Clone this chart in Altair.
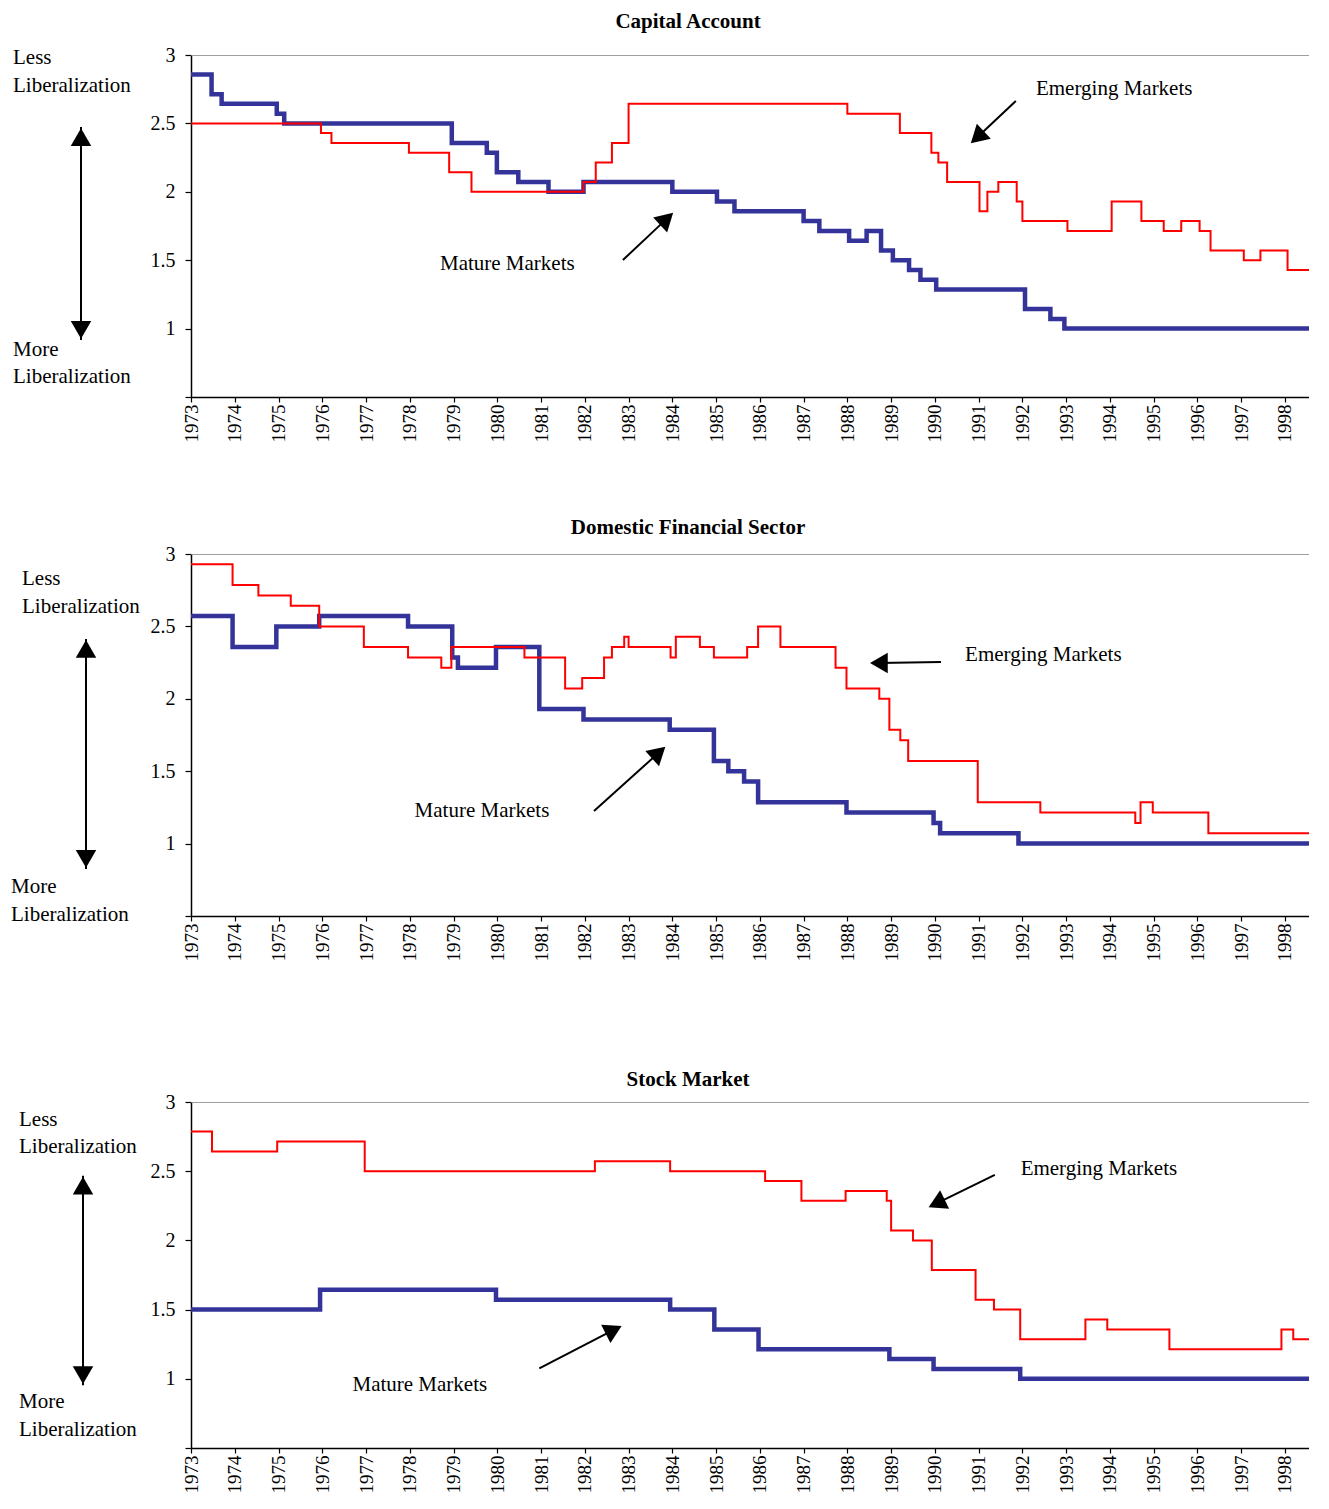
import altair as alt
import pandas as pd

FONT = "Liberation Serif"
RED = "#FF0000"
BLUE = "#333399"

YEARS = list(range(1973, 1999))
Y_TICKS = [0.5, 1, 1.5, 2, 2.5, 3]
TITLES = ["Capital Account", "Domestic Financial Sector", "Stock Market"]
SERIES_NAMES = ["Emerging Markets", "Mature Markets"]
SIDE_LABELS = ["Less", "Liberalization", "More", "Liberalization"]

# ---- Capital Account (dates of change, level) ----
CA_EM_T = [1973.0, 1975.97, 1976.21, 1977.98, 1978.9, 1979.41, 1981.97, 1982.25, 1982.62, 1983.0,
           1988.0, 1989.2, 1989.92, 1990.08, 1990.28, 1991.02, 1991.2, 1991.45, 1991.87, 1992.0,
           1993.03, 1994.04, 1994.72, 1995.23, 1995.63, 1996.05, 1996.3, 1997.06, 1997.44, 1998.06, 1999.0]
CA_EM_V = [2.5, 2.429, 2.357, 2.286, 2.143, 2.0, 2.071, 2.214, 2.357, 2.643,
           2.571, 2.429, 2.286, 2.214, 2.071, 1.857, 2.0, 2.071, 1.929, 1.786,
           1.714, 1.929, 1.786, 1.714, 1.786, 1.714, 1.571, 1.5, 1.571, 1.429, 1.429]
CA_MM_T = [1973.0, 1973.47, 1973.7, 1974.96, 1975.13, 1978.96, 1979.76, 1979.99, 1980.48, 1981.17,
           1981.97, 1984.0, 1985.02, 1985.42, 1987.0, 1987.36, 1988.04, 1988.44, 1988.77, 1989.04,
           1989.41, 1989.67, 1990.03, 1992.06, 1992.64, 1992.96, 1999.0]
CA_MM_V = [2.857, 2.714, 2.643, 2.571, 2.5, 2.357, 2.286, 2.143, 2.071, 2.0,
           2.071, 2.0, 1.929, 1.857, 1.786, 1.714, 1.643, 1.714, 1.571, 1.5,
           1.429, 1.357, 1.286, 1.143, 1.071, 1.0, 1.0]

# ---- Domestic Financial Sector ----
DF_EM_T = [1973.0, 1973.95, 1974.54, 1975.28, 1975.93, 1976.95, 1977.96, 1978.72, 1978.95, 1980.62,
           1981.55, 1981.94, 1982.44, 1982.62, 1982.9, 1983.0, 1983.96, 1984.08, 1984.63, 1984.95,
           1985.71, 1985.96, 1986.47, 1987.73, 1987.98, 1988.73, 1988.96, 1989.21, 1989.39, 1990.98,
           1992.41, 1994.58, 1994.7, 1994.98, 1996.25, 1999.0]
DF_EM_V = [2.929, 2.786, 2.714, 2.643, 2.5, 2.357, 2.286, 2.214, 2.357, 2.286,
           2.071, 2.143, 2.286, 2.357, 2.429, 2.357, 2.286, 2.429, 2.357, 2.286,
           2.357, 2.5, 2.357, 2.214, 2.071, 2.0, 1.786, 1.714, 1.571, 1.286,
           1.214, 1.143, 1.286, 1.214, 1.071, 1.071]
DF_MM_T = [1973.0, 1973.95, 1974.95, 1975.93, 1977.96, 1978.97, 1979.1, 1979.97, 1980.96, 1981.97,
           1983.94, 1984.95, 1985.28, 1985.64, 1985.96, 1987.98, 1989.97, 1990.12, 1991.91, 1999.0]
DF_MM_V = [2.571, 2.357, 2.5, 2.571, 2.5, 2.286, 2.214, 2.357, 1.929, 1.857,
           1.786, 1.571, 1.5, 1.429, 1.286, 1.214, 1.143, 1.071, 1.0, 1.0]

# ---- Stock Market ----
SM_EM_T = [1973.0, 1973.48, 1974.97, 1976.97, 1982.23, 1983.95, 1986.12, 1986.95, 1987.96, 1988.9,
           1989.0, 1989.5, 1989.93, 1990.93, 1991.35, 1991.95, 1993.44, 1993.94, 1995.36, 1997.92,
           1998.19, 1999.0]
SM_EM_V = [2.786, 2.643, 2.714, 2.5, 2.571, 2.5, 2.429, 2.286, 2.357, 2.286,
           2.071, 2.0, 1.786, 1.571, 1.5, 1.286, 1.429, 1.357, 1.214, 1.357,
           1.286, 1.286]
SM_MM_T = [1973.0, 1975.95, 1979.97, 1983.95, 1984.96, 1985.97, 1988.96, 1989.97, 1991.95, 1999.0]
SM_MM_V = [1.5, 1.643, 1.571, 1.5, 1.357, 1.214, 1.143, 1.071, 1.0, 1.0]

# ---- annotation placement (data coordinates; side notes in pixels left of the axis) ----
ANNOT = [
    dict(em_text=(1992.31, 2.751), em_arrow=(1991.85, 2.664, 1990.97, 2.399, 227),
         mm_text=(1978.69, 1.472), mm_arrow=(1982.87, 1.501, 1983.87, 1.802, 47),
         side=[(-178, 2.978), (-178, 2.773), (-178, 0.844), (-178, 0.646)],
         dbl=(-110, 2.474, 0.917, 2.40, 0.99)),
    dict(em_text=(1990.69, 2.303), em_arrow=(1990.14, 2.254, 1988.72, 2.247, 270),
         mm_text=(1978.11, 1.225), mm_arrow=(1982.21, 1.225, 1983.69, 1.628, 48),
         side=[(-169, 2.827), (-169, 2.634), (-180, 0.700), (-180, 0.507)],
         dbl=(-105, 2.413, 0.825, 2.344, 0.894)),
    dict(em_text=(1991.96, 2.517), em_arrow=(1991.37, 2.474, 1990.04, 2.268, 244),
         mm_text=(1976.69, 0.954), mm_arrow=(1980.96, 1.076, 1982.66, 1.353, 63),
         side=[(-172, 2.870), (-172, 2.676), (-172, 0.831), (-172, 0.630)],
         dbl=(-108, 2.467, 0.954, 2.395, 1.026)),
]

WIDTH = 1118
HEIGHTS = [342, 362, 346]
TITLE_OFFSETS = [13, 6, 2]
TITLE_DX = -62
X_END = 1998.55  # right edge of the visible plot area

xs = alt.Scale(domain=[1973, X_END], nice=False, zero=False)
ys = alt.Scale(domain=[0.5, 3], nice=False, zero=False)
xax = alt.Axis(values=YEARS, format="d", labelAngle=270, labelFont=FONT, labelFontSize=19,
               labelColor="black", tickColor="black", domainColor="black", domainWidth=1.5,
               tickWidth=1.2, tickSize=5, labelPadding=2, grid=False, labelOverlap=False)
yax = alt.Axis(values=Y_TICKS, format="~g", labelExpr="datum.value < 0.75 ? '' : datum.label",
               labelFont=FONT, labelFontSize=20, labelColor="black", tickColor="black",
               domainColor="black", domainWidth=1.5, tickWidth=1.2, tickSize=6, labelPadding=10,
               grid=False)


def X(f):
    return alt.X(f, type="quantitative", scale=xs, axis=xax, title=None)


def Y(f):
    return alt.Y(f, type="quantitative", scale=ys, axis=yax, title=None)


def panel(i, em_t, em_v, mm_t, mm_v):
    a = ANNOT[i]
    mm = pd.DataFrame({"t": mm_t, "v": mm_v})
    em = pd.DataFrame({"t": em_t, "v": em_v})
    layers = []
    layers.append(alt.Chart(pd.DataFrame({"t": [1973], "t2": [1999], "v": [3]}))
                  .mark_rule(color="#7f7f7f", strokeWidth=1.5, clip=True)
                  .encode(x=X("t"), x2="t2", y=Y("v")))
    layers.append(alt.Chart(mm).mark_line(color=BLUE, strokeWidth=4.5, interpolate="step-after",
                                          clip=True)
                  .encode(x=X("t"), y=Y("v")))
    layers.append(alt.Chart(em).mark_line(color=RED, strokeWidth=2, interpolate="step-after",
                                          clip=True)
                  .encode(x=X("t"), y=Y("v")))
    txt = pd.DataFrame({"t": [a["em_text"][0], a["mm_text"][0]],
                        "v": [a["em_text"][1], a["mm_text"][1]],
                        "label": SERIES_NAMES})
    layers.append(alt.Chart(txt).mark_text(align="left", baseline="middle", font=FONT,
                                           fontSize=21, color="black")
                  .encode(x=X("t"), y=Y("v"), text="label:N"))
    arr = pd.DataFrame([a["em_arrow"], a["mm_arrow"]], columns=["t1", "v1", "t2", "v2", "a"])
    layers.append(alt.Chart(arr).mark_rule(color="black", strokeWidth=2)
                  .encode(x=X("t1"), y=Y("v1"), x2="t2", y2="v2"))
    layers.append(alt.Chart(arr).mark_point(shape="triangle-up", filled=True, size=420,
                                            color="black", opacity=1)
                  .encode(x=X("t2"), y=Y("v2"), angle=alt.Angle("a:Q", scale=None)))
    for (px, v), lab in zip(a["side"], SIDE_LABELS):
        layers.append(alt.Chart(pd.DataFrame({"v": [v], "label": [lab]}))
                      .mark_text(align="left", baseline="middle", font=FONT, fontSize=21,
                                 color="black")
                      .encode(x=alt.value(px), y=Y("v"), text="label:N"))
    dx, top_tip, bot_tip, top_c, bot_c = a["dbl"]
    layers.append(alt.Chart(pd.DataFrame({"v1": [top_tip], "v2": [bot_tip]}))
                  .mark_rule(color="black", strokeWidth=2)
                  .encode(x=alt.value(dx), y=Y("v1"), y2="v2"))
    layers.append(alt.Chart(pd.DataFrame({"v": [top_c]}))
                  .mark_point(shape="triangle-up", filled=True, size=420, color="black", opacity=1)
                  .encode(x=alt.value(dx), y=Y("v")))
    layers.append(alt.Chart(pd.DataFrame({"v": [bot_c]}))
                  .mark_point(shape="triangle-down", filled=True, size=420, color="black", opacity=1)
                  .encode(x=alt.value(dx), y=Y("v")))
    return alt.layer(*layers).properties(
        width=WIDTH, height=HEIGHTS[i],
        title=alt.TitleParams(text=TITLES[i], font=FONT, fontSize=21, fontWeight="bold",
                              anchor="middle", offset=TITLE_OFFSETS[i], dx=TITLE_DX,
                              color="black"))


p1 = panel(0, CA_EM_T, CA_EM_V, CA_MM_T, CA_MM_V)
p2 = panel(1, DF_EM_T, DF_EM_V, DF_MM_T, DF_MM_V)
p3 = panel(2, SM_EM_T, SM_EM_V, SM_MM_T, SM_MM_V)

chart = alt.vconcat(alt.vconcat(p1, p2, spacing=75), p3, spacing=108).properties(
    padding={"left": 3, "top": 3, "right": 0, "bottom": 0},
    background="white",
).configure_view(stroke=None)

chart.save("out.html", embed_options={"renderer": "svg", "actions": False})
